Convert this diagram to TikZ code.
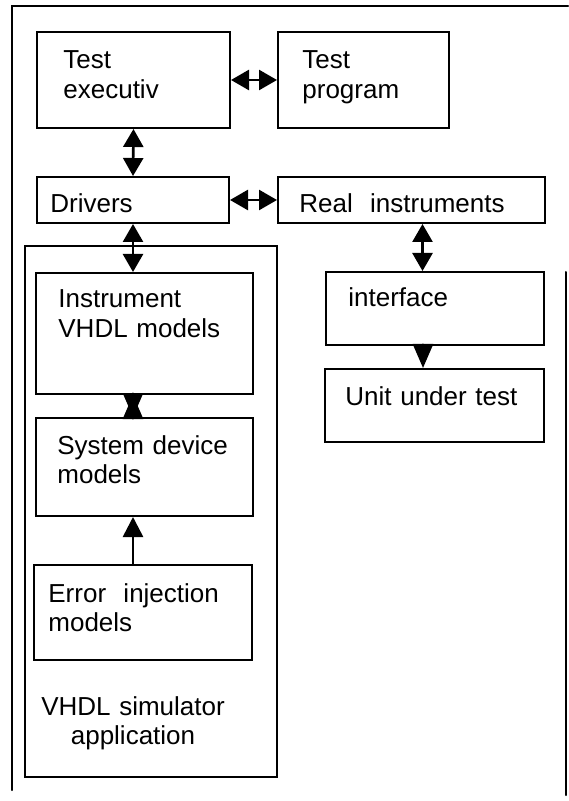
\documentclass[tikz,border=0pt]{standalone}
\usepackage{fontspec}
\setmainfont{Liberation Sans}
\usetikzlibrary{arrows.meta,positioning}

\begin{document}
\begin{tikzpicture}[x=0.5pt,y=-0.5pt,line cap=round,
    blk/.style={draw,line width=1pt,inner sep=0pt},
    txt/.style={anchor=base west,inner sep=0pt,align=left,text width=120pt,
                font=\fontsize{13}{14.7}\selectfont},
    dbl/.style={{Triangle[length=9pt,width=10pt]}-{Triangle[length=9pt,width=10pt]},line width=1.3pt},
    sgl/.style={-{Triangle[length=10pt,width=10pt]},line width=1.3pt},
    full/.style={-{Triangle[length=12pt,width=10pt]},line width=1.3pt}]
  \useasboundingbox (0,0) rectangle (568,801);
  % --- marco ---
  \draw[line width=1pt] (12,790) -- (12,6) -- (568,6);
  \draw[line width=1pt] (566,272) -- (566,795);
  % --- bloques superiores ---
  \node[blk,minimum width=96.5pt,minimum height=48pt] (TE) at (133.5,80) {};
  \node[blk,minimum width=85.5pt,minimum height=48pt] (TP) at (363.5,80) {};
  \node[blk,minimum width=96pt,minimum height=23pt] (Drv) at (133,200) {};
  \node[blk,minimum width=133.5pt,minimum height=23pt] (RI) at (411.5,200) {};
  % --- simulador ---
  \node[blk,minimum width=126pt,minimum height=265.5pt] (Sim) at (151,511.5) {};
  \node[blk,minimum width=108.5pt,minimum height=60.5pt] (Ins) at (144.5,333.5) {};
  \node[blk,minimum width=108.5pt,minimum height=49pt] (Sys) at (144.5,467) {};
  \node[blk,minimum width=109pt,minimum height=47.5pt] (Err) at (143,612.5) {};
  % --- lado real ---
  \node[blk,minimum width=109pt,minimum height=36.5pt] (Ifc) at (435,308.5) {};
  \node[blk,minimum width=109.5pt,minimum height=36.5pt] (UUT) at (434.5,405.5) {};
  % --- textos ---
  \node[txt] (tTE) at (63,69) {Test\\executiv};
  \node[txt] (tTP) at (302,69) {Test\\program};
  \node[txt] (tDrv) at (50,213) {Drivers};
  \node[txt] (tRI) at (299,213) {Real\ \ instruments};
  \node[txt] (tIns) at (58,308) {Instrument\\VHDL models};
  \node[txt] (tSys) at (57,454) {System device\\models};
  \node[txt] (tErr) at (48,602) {Error\ \ injection\\models};
  \node[txt,anchor=base,align=center] (tSim) at (133,715) {VHDL simulator\\application};
  \node[txt] (tIfc) at (348,307) {interface};
  \node[txt] (tUUT) at (345,405) {Unit under test};
  % --- flechas ---
  \draw[dbl] (TE.east) -- (TP.west);
  \draw[dbl] (TE.south) -- (Drv.north);
  \draw[dbl] (Drv.east) -- (RI.west);
  \draw[dbl] (Drv.south) -- (Drv.south |- Ins.north);
  \draw[full] (Drv.south |- Sys.north) -- (Ins.south -| Drv.south);
  \draw[full] (Ins.south -| Drv.south) -- (Drv.south |- Sys.north);
  \draw[sgl] (Err.north -| Drv.south) -- (Drv.south |- Sys.south);
  \draw[dbl] ([xshift=5.5pt]RI.south) -- ([xshift=5.5pt]RI.south |- Ifc.north);
  \draw[full] ([xshift=-6pt]Ifc.south) -- ([xshift=-6pt]Ifc.south |- UUT.north);
\end{tikzpicture}
\end{document}
